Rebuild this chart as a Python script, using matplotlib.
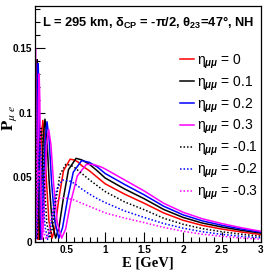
import matplotlib
matplotlib.use("Agg")
import matplotlib.pyplot as plt
from matplotlib.ticker import MultipleLocator

plt.rcParams['mathtext.fontset'] = 'custom'
plt.rcParams['mathtext.rm'] = 'Liberation Sans:bold'
plt.rcParams['mathtext.it'] = 'Liberation Sans:italic:bold'
plt.rcParams['mathtext.bf'] = 'Liberation Sans:bold'

# eta_mumu = 0
e_r = [0.095, 0.100, 0.105, 0.111, 0.117, 0.124, 0.132, 0.140, 0.151, 0.165, 0.181, 0.200, 0.221, 0.246, 0.279,
       0.320, 0.357, 0.405, 0.465, 0.550, 0.600, 0.650, 0.700, 0.800, 0.900, 1.00, 1.25, 1.50, 1.75, 2.00, 2.25,
       2.50, 2.75, 3.00]
p_r = [0.025, 0.070, 0.120, 0.140, 0.120, 0.071, 0.022, 0.002, 0.015, 0.048, 0.080, 0.094, 0.081, 0.048, 0.016,
       0.003, 0.011, 0.033, 0.055, 0.064, 0.0635, 0.062, 0.059, 0.055, 0.050, 0.045, 0.037, 0.030, 0.0225, 0.0168,
       0.0128, 0.0100, 0.0077, 0.0058]
# eta_mumu = 0.1
e_k = [0.095, 0.098, 0.103, 0.108, 0.114, 0.120, 0.127, 0.133, 0.141, 0.150, 0.160, 0.172, 0.188, 0.206, 0.228,
       0.252, 0.280, 0.318, 0.365, 0.407, 0.462, 0.530, 0.627, 0.700, 0.800, 0.900, 1.00, 1.25, 1.50, 1.75, 2.00,
       2.25, 2.50, 2.75, 3.00]
p_k = [0.080, 0.020, 0.003, 0.025, 0.071, 0.121, 0.141, 0.121, 0.072, 0.022, 0.002, 0.015, 0.048, 0.081, 0.095,
       0.082, 0.048, 0.016, 0.003, 0.011, 0.033, 0.056, 0.0647, 0.0635, 0.060, 0.055, 0.0495, 0.041, 0.0335, 0.0252,
       0.0190, 0.0146, 0.0116, 0.0090, 0.0069]
# eta_mumu = 0.2
e_b = [0.098, 0.102, 0.105, 0.109, 0.114, 0.121, 0.127, 0.133, 0.141, 0.149, 0.157, 0.168, 0.178, 0.192, 0.210,
       0.230, 0.254, 0.281, 0.312, 0.354, 0.406, 0.453, 0.514, 0.591, 0.699, 0.800, 0.900, 1.00, 1.25, 1.50, 1.75,
       2.00, 2.25, 2.50, 2.75, 3.00]
p_b = [0.175, 0.140, 0.080, 0.020, 0.003, 0.025, 0.069, 0.118, 0.138, 0.118, 0.070, 0.022, 0.002, 0.015, 0.047,
       0.079, 0.093, 0.080, 0.047, 0.016, 0.003, 0.011, 0.032, 0.054, 0.063, 0.0615, 0.058, 0.053, 0.0445, 0.0365,
       0.0277, 0.0210, 0.0163, 0.0129, 0.0100, 0.0076]
# eta_mumu = 0.3
e_m = [0.101, 0.106, 0.110, 0.115, 0.119, 0.124, 0.131, 0.138, 0.145, 0.153, 0.161, 0.171, 0.182, 0.193, 0.208,
       0.228, 0.250, 0.276, 0.305, 0.339, 0.385, 0.442, 0.493, 0.559, 0.642, 0.759, 0.850, 0.950, 1.00, 1.25, 1.50,
       1.75, 2.00, 2.25, 2.50, 2.75, 3.00]
p_m = [0.130, 0.150, 0.130, 0.074, 0.019, 0.003, 0.023, 0.065, 0.112, 0.130, 0.112, 0.066, 0.020, 0.002, 0.014,
       0.045, 0.075, 0.087, 0.075, 0.045, 0.015, 0.003, 0.010, 0.031, 0.051, 0.060, 0.060, 0.058, 0.0565, 0.048,
       0.0395, 0.030, 0.0230, 0.0179, 0.0142, 0.0110, 0.0083]
# eta_mumu = -0.1
e_kd = [0.0855, 0.090, 0.0945, 0.100, 0.105, 0.112, 0.119, 0.126, 0.136, 0.149, 0.163, 0.180, 0.199, 0.221, 0.251,
        0.288, 0.321, 0.365, 0.419, 0.495, 0.550, 0.600, 0.700, 0.800, 0.900, 1.00, 1.25, 1.50, 1.75, 2.00, 2.25,
        2.50, 2.75, 3.00]
p_kd = [0.024, 0.066, 0.113, 0.132, 0.113, 0.067, 0.021, 0.002, 0.014, 0.045, 0.075, 0.088, 0.076, 0.045, 0.015,
        0.003, 0.010, 0.031, 0.052, 0.060, 0.0595, 0.058, 0.053, 0.048, 0.0435, 0.039, 0.031, 0.0250, 0.0184,
        0.0137, 0.0103, 0.0079, 0.0060, 0.0045]
# eta_mumu = -0.2
e_bd = [0.091, 0.096, 0.102, 0.108, 0.115, 0.124, 0.135, 0.148, 0.164, 0.181, 0.202, 0.229, 0.262, 0.293, 0.332,
        0.381, 0.451, 0.550, 0.600, 0.700, 0.800, 0.900, 1.00, 1.25, 1.50, 1.75, 2.00, 2.25, 2.50, 2.75, 3.00]
p_bd = [0.112, 0.096, 0.057, 0.018, 0.002, 0.012, 0.038, 0.064, 0.075, 0.064, 0.037, 0.012, 0.002, 0.008, 0.025,
        0.041, 0.048, 0.047, 0.0455, 0.041, 0.037, 0.0335, 0.0305, 0.024, 0.0190, 0.0143, 0.0107, 0.0079, 0.0059,
        0.0044, 0.0033]
# eta_mumu = -0.3
e_md = [0.094, 0.100, 0.106, 0.115, 0.125, 0.138, 0.152, 0.168, 0.187, 0.212, 0.243, 0.271, 0.308, 0.353, 0.418,
        0.470, 0.500, 0.550, 0.600, 0.700, 0.800, 0.900, 1.00, 1.25, 1.50, 1.75, 2.00, 2.25, 2.50, 2.75, 3.00]
p_md = [0.040, 0.013, 0.001, 0.009, 0.029, 0.048, 0.056, 0.048, 0.028, 0.009, 0.002, 0.006, 0.018, 0.029, 0.034,
        0.034, 0.0338, 0.0333, 0.0325, 0.030, 0.0275, 0.025, 0.0225, 0.0185, 0.0150, 0.0113, 0.0083, 0.0060, 0.0044,
        0.0031, 0.0022]

labels = ['0', '0.1', '0.2', '0.3', '-0.1', '-0.2', '-0.3']
colors = ['red', 'black', 'blue', 'magenta', 'black', 'blue', 'magenta']
curves = [(e_r, p_r), (e_k, p_k), (e_b, p_b), (e_m, p_m), (e_kd, p_kd), (e_bd, p_bd), (e_md, p_md)]

fig = plt.figure(figsize=(2.66, 2.73), dpi=100)
ax = fig.add_axes([35/266, 31/273, 226/266, 236/273])

for i, (e, p) in enumerate(curves):
    ls = '-' if i < 4 else (0, (1, 1.3))
    ax.plot(e, p, color=colors[i], lw=1.1, ls=ls,
            label=r'η$_{\mu\mu}$ = ' + labels[i])

ax.set_xlim(0.1, 3.0)
ax.set_ylim(0, 0.1825)
ax.xaxis.set_minor_locator(MultipleLocator(0.1))
ax.yaxis.set_minor_locator(MultipleLocator(0.01))
ax.set_xticks([0.5, 1, 1.5, 2, 2.5, 3])
ax.set_xticklabels(['0.5', '1', '1.5', '2', '2.5', '3'])
ax.set_yticks([0, 0.05, 0.1, 0.15])
ax.set_yticklabels(['0', '0.05', '0.1', '0.15'])
ax.tick_params(which='both', direction='in', labelsize=7.2, width=0.8, pad=2)
ax.tick_params(which='major', length=7)
ax.tick_params(which='minor', length=3.5)
for lab in ax.get_xticklabels() + ax.get_yticklabels():
    lab.set_fontfamily('Liberation Sans')
    lab.set_fontweight('bold')
for s in ax.spines.values():
    s.set_linewidth(0.9)

ax.set_xlabel('E [GeV]', fontfamily='Liberation Serif', fontsize=10.5, fontweight='bold', labelpad=1)
ax.set_ylabel(r'$\mathbf{P}_{\mu\ e}$', fontsize=12, math_fontfamily='stix')
ax.yaxis.set_label_coords(-0.072, 0.525)

ax.text(0.03, 0.962, r'L = 295 km, δ$_{\mathrm{CP}}$ = -π/2, θ$_{\mathrm{23}}$=47°, NH', transform=ax.transAxes,
        ha='left', va='top', fontsize=9.3, fontweight='bold', fontfamily='Liberation Sans')

ax.legend(loc='upper right', bbox_to_anchor=(1.0, 0.815), frameon=False,
          handlelength=1.0, handletextpad=0.25, labelspacing=0.26, borderpad=0.1, borderaxespad=0.1,
          prop={'family': 'Liberation Sans', 'size': 10})

fig.savefig('out.png', dpi=100)
